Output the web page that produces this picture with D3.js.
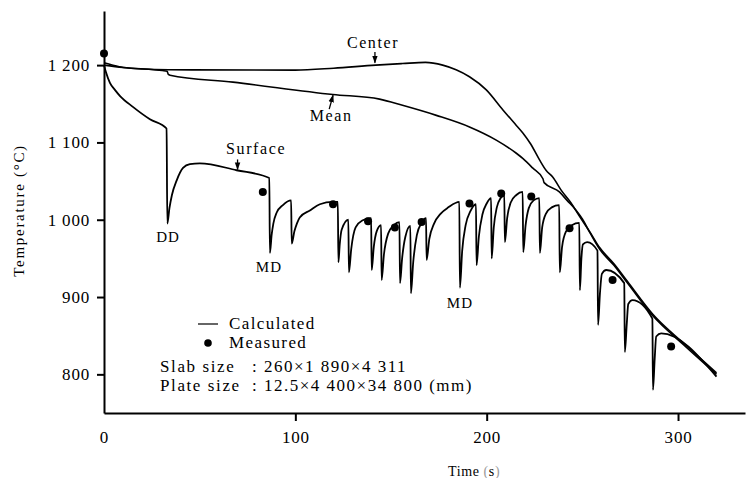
<!DOCTYPE html>
<html>
<head>
<meta charset="utf-8">
<script src="https://cdn.jsdelivr.net/npm/d3@7"></script>
<style>
  html, body { margin: 0; padding: 0; background: #fff; }
  svg { display: block; font-family: "Liberation Serif", "Times New Roman", serif; }
</style>
</head>
<body>
<svg id="chart" width="746" height="478"></svg>
<script>
// ---- data: time (s) vs temperature (°C) ----
const xTicks = [0, 100, 200, 300];
const yTicks = [800, 900, 1000, 1100, 1200];

// calculated slab centre temperature
const centerCurve = [
  [0, 1203], [8, 1198], [20, 1195], [34, 1194], [100, 1193.5], [120, 1196],
  [142, 1200], [156, 1202], [168, 1203.5], [177, 1200], [184, 1194], [191, 1185],
  [199.8, 1168], [208.5, 1142], [215.5, 1122], [219, 1112], [223, 1098],
  [227.7, 1077], [231, 1064], [234.6, 1055], [239, 1038], [244, 1022],
  [248.6, 1004], [254, 984], [259, 964], [266.5, 943], [273.6, 920],
  [286.7, 878], [303, 840], [320.1, 802]
];

// calculated mean temperature
const meanCurve = [
  [0, 1200], [10, 1197], [33, 1192], [33.6, 1188], [34.5, 1187], [67.4, 1178],
  [119.6, 1162], [144, 1156], [156, 1148], [173.7, 1135], [191, 1120],
  [205, 1103], [215.5, 1086], [219, 1079], [224, 1067], [229.4, 1053],
  [230, 1048], [238, 1036], [242, 1025], [246.8, 1012], [250, 1001],
  [254, 983], [259, 962], [266.5, 941], [273.6, 918], [286.7, 876],
  [303, 838], [320.1, 800]
];

// calculated surface temperature (descaling / rolling passes give the sharp dips)
const surfaceCurve = [
  [0, 1200], [1, 1191], [3.1, 1177], [5.7, 1168], [8.4, 1160], [15.1, 1146],
  [24, 1130], [32.7, 1118],
  [33.1, 995], [34.2, 1015], [35.5, 1032], [38, 1051], [41.3, 1067], [44.9, 1072],
  [50.1, 1073], [69.3, 1064], [86.4, 1054],
  [86.7, 957], [87.6, 980], [88.5, 995], [90.2, 1009], [93.5, 1019], [97.8, 1025],
  [98.1, 969], [99.5, 985], [100.8, 995], [102.3, 1003], [107.6, 1012],
  [112.8, 1020], [119.6, 1023], [122.2, 1023],
  [122.5, 945], [123.2, 968], [124.2, 987], [127.7, 1000],
  [128.0, 932], [129.2, 962], [131.5, 990], [135, 999], [139.6, 1002],
  [139.9, 935], [141, 965], [142.5, 985], [144.8, 993],
  [145.1, 922], [146.3, 955], [148.5, 982], [151.5, 993], [154.4, 997],
  [154.7, 918], [155.8, 950], [157.5, 978], [160.1, 992],
  [160.4, 905], [161.6, 945], [163.5, 980], [166, 996], [168.3, 1002],
  [168.6, 948], [170, 975], [172.5, 995], [176, 1008], [180, 1016], [185.7, 1023],
  [186.0, 912], [187.2, 960], [189, 993], [191.5, 1011], [194.4, 1020],
  [194.7, 941], [195.9, 978], [197.8, 1007], [200, 1021], [202.3, 1028],
  [202.6, 950], [203.7, 990], [205.3, 1016], [207.3, 1028], [209.2, 1032],
  [209.5, 971], [210.7, 1002], [212.5, 1022], [215.5, 1032], [218.8, 1036],
  [219.1, 958], [220.3, 992], [222, 1015], [224.5, 1025], [227.5, 1028],
  [227.8, 957], [229, 990], [231, 1008], [234, 1016], [237.9, 1019],
  [238.2, 932], [239.4, 965], [241.5, 985], [244.5, 993], [248.4, 996],
  [248.7, 909], [249.5, 950], [250.3, 968], [252.5, 971], [257.9, 960],
  [258.2, 864], [259.2, 905], [260.2, 930], [262.5, 935], [271.9, 918],
  [272.2, 829], [273.2, 865], [274, 891], [276.2, 896], [286.6, 872],
  [286.9, 780], [287.8, 820], [288.6, 849], [291.2, 853], [320.1, 797]
];

// measured surface temperatures
const measured = [
  [0, 1215], [83, 1036], [119.7, 1020], [138, 998], [152, 990], [166, 997],
  [191, 1021], [207.6, 1034], [223.3, 1030], [243.3, 989], [265.8, 922], [296.4, 836]
];

const legendItems = ["Calculated", "Measured"];
const sizeNames = ["Slab size", "Plate size"];
const sizeValues = [": 260\u00d71 890\u00d74 311", ": 12.5\u00d74 400\u00d734 800 (mm)"];

// ---- drawing ----
const serif = "'Liberation Serif', 'Times New Roman', serif";
const svg = d3.select("#chart");
const x = d3.scaleLinear().domain([0, 335]).range([104, 745]);
const y = d3.scaleLinear().domain([750, 1270]).range([413, 11]);

const fmtTemp = d => d >= 1000 ? Math.floor(d / 1000) + " " + String(d % 1000).padStart(3, "0") : String(d);

// axes
const gx = svg.append("g").attr("transform", `translate(0,${y(750)})`)
  .call(d3.axisBottom(x).tickValues(xTicks).tickSize(8).tickSizeOuter(0).tickPadding(10).tickFormat(d3.format("d")));
const gy = svg.append("g").attr("transform", `translate(${x(0)},0)`)
  .call(d3.axisLeft(y).tickValues(yTicks).tickSize(7).tickSizeOuter(0).tickPadding(7).tickFormat(fmtTemp));

[gx, gy].forEach(g => {
  g.attr("font-family", serif).attr("font-size", 17);
  g.select(".domain").attr("stroke", "#000").attr("stroke-width", 2);
  g.selectAll(".tick line").attr("stroke", "#000").attr("stroke-width", 2);
  g.selectAll(".tick text")
    .attr("fill", "#000")
    .style("font-family", serif)
    .style("font-size", "17px")
    .style("letter-spacing", "0.8px");
});
gx.selectAll(".tick").filter(d => d === 0).select("line").remove();

// axis titles
svg.append("text")
  .attr("transform", `translate(24,${y(1012)}) rotate(-90)`)
  .attr("text-anchor", "middle")
  .style("font-size", "15px")
  .style("letter-spacing", "1.7px")
  .text("Temperature (\u00b0C)");

const tt = svg.append("text")
  .attr("x", 448).attr("y", 476)
  .style("font-size", "14px")
  .style("letter-spacing", "0.6px");
tt.append("tspan").text("Time ");
tt.append("tspan").attr("fill", "#9a9a9a").text("(");
tt.append("tspan").text("s");
tt.append("tspan").attr("fill", "#9a9a9a").text(")");

// curves
const line = d3.line().x(d => x(d[0])).y(d => y(d[1])).curve(d3.curveMonotoneX);
const curves = [
  { data: meanCurve, w: 1.6 },
  { data: centerCurve, w: 1.6 },
  { data: surfaceCurve, w: 1.8 }
];
svg.append("g").selectAll("path").data(curves).join("path")
  .attr("d", d => line(d.data))
  .attr("fill", "none")
  .attr("stroke", "#000")
  .attr("stroke-width", d => d.w)
  .attr("stroke-linejoin", "round");

// measured points
svg.append("g").selectAll("circle").data(measured).join("circle")
  .attr("cx", d => x(d[0])).attr("cy", d => y(d[1])).attr("r", 4)
  .attr("fill", "#000");

// curve names with pointer arrows
svg.append("defs").append("marker")
  .attr("id", "head").attr("viewBox", "0 0 10 10").attr("refX", 9).attr("refY", 5)
  .attr("markerWidth", 6).attr("markerHeight", 6).attr("orient", "auto")
  .append("path").attr("d", "M0,1.5 L10,5 L0,8.5 Z").attr("fill", "#000");

const names = [
  { text: "Center", t: 140.6, T: 1222, from: [141.6, 1217], to: [141.6, 1203] },
  { text: "Mean", t: 118.7, T: 1128, from: [117.7, 1143], to: [119.7, 1161] },
  { text: "Surface", t: 79.5, T: 1085, from: [69.8, 1078], to: [69.8, 1065] }
];
names.forEach(n => {
  svg.append("text").attr("x", x(n.t)).attr("y", y(n.T))
    .attr("text-anchor", "middle")
    .style("font-size", "16px").style("letter-spacing", "1.6px")
    .text(n.text);
  svg.append("line")
    .attr("x1", x(n.from[0])).attr("y1", y(n.from[1]))
    .attr("x2", x(n.to[0])).attr("y2", y(n.to[1]))
    .attr("stroke", "#000").attr("stroke-width", 1.3)
    .attr("marker-end", "url(#head)");
});

// pass annotations
const passes = [
  { text: "DD", t: 33.5, T: 971 },
  { text: "MD", t: 86.2, T: 932 },
  { text: "MD", t: 186, T: 886 }
];
svg.append("g").selectAll("text").data(passes).join("text")
  .attr("x", d => x(d.t)).attr("y", d => y(d.T))
  .attr("text-anchor", "middle")
  .style("font-size", "15px").style("letter-spacing", "1px")
  .text(d => d.text);

// legend
const lg = svg.append("g");
lg.append("line").attr("x1", 198).attr("x2", 218).attr("y1", 324).attr("y2", 324)
  .attr("stroke", "#000").attr("stroke-width", 1.2);
lg.append("circle").attr("cx", 208).attr("cy", 343).attr("r", 3.8).attr("fill", "#000");
lg.selectAll("text.item").data(legendItems).join("text").attr("class", "item")
  .attr("x", 229).attr("y", (d, i) => 329 + i * 19)
  .style("font-size", "17px").style("letter-spacing", "1.4px")
  .text(d => d);
lg.selectAll("text.sname").data(sizeNames).join("text").attr("class", "sname")
  .attr("x", 160).attr("y", (d, i) => 372 + i * 19)
  .style("font-size", "17px").style("letter-spacing", "1.6px")
  .text(d => d);
lg.selectAll("text.sval").data(sizeValues).join("text").attr("class", "sval")
  .attr("x", 252).attr("y", (d, i) => 372 + i * 19)
  .style("font-size", "17px").style("letter-spacing", "1.5px")
  .text(d => d);
</script>
</body>
</html>
